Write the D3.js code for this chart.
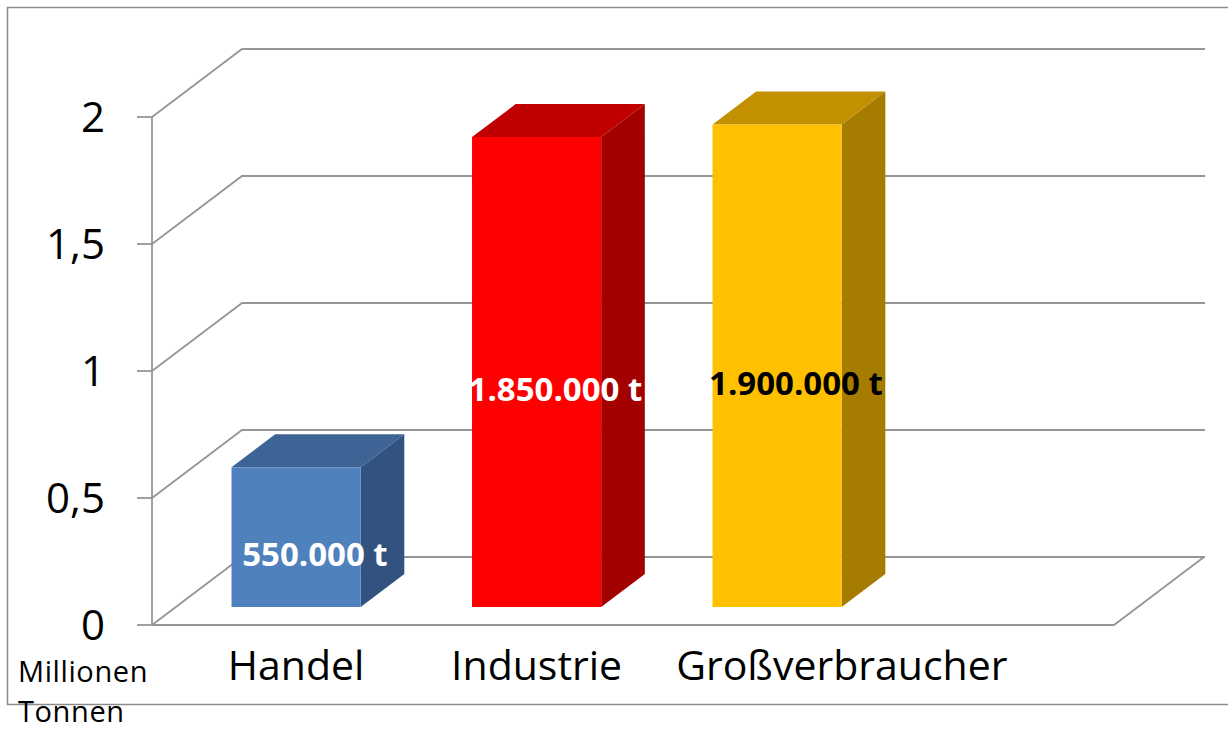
<!DOCTYPE html>
<html>
<head>
<meta charset="utf-8">
<script src="https://cdn.jsdelivr.net/npm/d3@7"></script>
<style>
  body { margin: 0; background: #fff; }
  text { font-family: "Open Sans", sans-serif; }
</style>
</head>
<body>
<div id="chart"></div>
<script>
// Data
const categories = ['Handel', 'Industrie', 'Großverbraucher']
const values = [0.55, 1.85, 1.9] // Millionen Tonnen
const valueLabels = ['550.000 t', '1.850.000 t', '1.900.000 t']
const yTicks = [0, 0.5, 1, 1.5, 2]
const yTickLabels = ['0', '0,5', '1', '1,5', '2']
const unitLines = ['Millionen', 'Tonnen']

// colours per category: front, top, side, label
const frontColors = ['#4f81bd', '#ff0000', '#ffc000']
const topColors = ['#3d6494', '#c00000', '#c29000']
const sideColors = ['#32537f', '#a30000', '#a67c00']
const labelColors = ['#ffffff', '#ffffff', '#000000']

async function draw() {
  // Dimensions
  let dimensions = {
    width: 1228,
    height: 731,
    left: 152,
    right: 1114,
    top: 117,
    bottom: 625,
    depthX: 90,
    depthY: -68,
  }

  const svg = d3.select('#chart')
    .append('svg')
    .attr('width', dimensions.width)
    .attr('height', dimensions.height)

  // chart area border (runs past the right edge)
  svg.append('rect')
    .attr('x', 7.5)
    .attr('y', 7.5)
    .attr('width', 1240)
    .attr('height', 697)
    .attr('fill', 'none')
    .attr('stroke', '#8c8c8c')
    .attr('stroke-width', 1.5)

  // Scales
  const yScale = d3.scaleLinear()
    .domain([0, 2])
    .range([dimensions.bottom, dimensions.top])

  // Excel keeps an empty fourth slot on the category axis
  const xScale = d3.scaleBand()
    .domain(d3.range(categories.length + 1))
    .range([dimensions.left, dimensions.right])

  const barWidth = xScale.bandwidth() * 0.537
  const depthFront = 0.265
  const depthBack = 0.75

  // project a point (x on front plane, value, depth fraction)
  const project = (x, v, f) => [
    x + f * dimensions.depthX,
    yScale(v) + f * dimensions.depthY
  ]

  const grid = svg.append('g')
    .attr('fill', 'none')
    .attr('stroke', '#969696')
    .attr('stroke-width', 1.8)

  // side wall + back wall gridlines
  yTicks.forEach(t => {
    const a = project(dimensions.left, t, 0)
    const b = project(dimensions.left, t, 1)
    const c = project(dimensions.right + 1, t, 1)
    grid.append('path')
      .attr('d', d3.line()([a, b, c]))
  })

  // floor outline
  grid.append('path')
    .attr('d', d3.line()([
      project(dimensions.left, 0, 0),
      project(dimensions.right, 0, 0),
      project(dimensions.right, 0, 1)
    ]))

  // vertical axis + ticks
  grid.append('line')
    .attr('x1', dimensions.left)
    .attr('x2', dimensions.left)
    .attr('y1', yScale(2))
    .attr('y2', yScale(0))

  grid.selectAll('.tick')
    .data(yTicks)
    .join('line')
    .attr('x1', dimensions.left - 15)
    .attr('x2', dimensions.left)
    .attr('y1', d => yScale(d))
    .attr('y2', d => yScale(d))

  svg.append('g')
    .selectAll('text')
    .data(yTicks)
    .join('text')
    .attr('x', dimensions.left - 47)
    .attr('y', d => yScale(d) + 15)
    .attr('text-anchor', 'end')
    .style('font-size', '42px')
    .attr('fill', '#000')
    .text((d, i) => yTickLabels[i])

  // Bars
  const bars = svg.append('g')

  values.forEach((v, i) => {
    const x0 = xScale(i) + (xScale.bandwidth() - barWidth) / 2
    const x1 = x0 + barWidth

    const front = [
      project(x0, 0, depthFront), project(x1, 0, depthFront),
      project(x1, v, depthFront), project(x0, v, depthFront)
    ]
    const top = [
      project(x0, v, depthFront), project(x1, v, depthFront),
      project(x1, v, depthBack), project(x0, v, depthBack)
    ]
    const side = [
      project(x1, 0, depthFront), project(x1, 0, depthBack),
      project(x1, v, depthBack), project(x1, v, depthFront)
    ]

    const poly = d3.line().curve(d3.curveLinearClosed)

    bars.append('path').attr('d', poly(side)).attr('fill', sideColors[i])
    bars.append('path').attr('d', poly(top)).attr('fill', topColors[i])
    bars.append('path').attr('d', poly(front)).attr('fill', frontColors[i])
  })

  // value labels
  svg.append('g')
    .selectAll('text')
    .data(values)
    .join('text')
    .attr('x', (d, i) => xScale(i) + xScale.bandwidth() / 2
      + (depthFront + depthBack) / 2 * dimensions.depthX - 3)
    .attr('y', d => yScale(d / 2) + 11)
    .attr('text-anchor', 'middle')
    .style('font-size', '33px')
    .style('font-weight', 'bold')
    .attr('fill', (d, i) => labelColors[i])
    .text((d, i) => valueLabels[i])

  // category labels, pushed right when they would overlap
  const catLabels = svg.append('g')
    .selectAll('text')
    .data(categories)
    .join('text')
    .attr('y', dimensions.bottom + 55)
    .style('font-size', '41px')
    .attr('fill', '#000')
    .text(d => d)

  let lastEnd = -Infinity
  catLabels.each(function(d, i) {
    const w = this.getComputedTextLength()
    const center = xScale(i) + xScale.bandwidth() / 2 + depthFront * dimensions.depthX
    const start = Math.max(center - w / 2, lastEnd + 54)
    d3.select(this).attr('x', start)
    lastEnd = start + w
  })

  // unit label
  svg.append('text')
    .attr('x', 18)
    .attr('y', 682)
    .style('font-size', '29px')
    .style('letter-spacing', '0.6px')
    .attr('fill', '#000')
    .selectAll('tspan')
    .data(unitLines)
    .join('tspan')
    .attr('x', 18)
    .attr('dy', (d, i) => i === 0 ? 0 : 39.5)
    .text(d => d)
}

draw()
</script>
</body>
</html>
